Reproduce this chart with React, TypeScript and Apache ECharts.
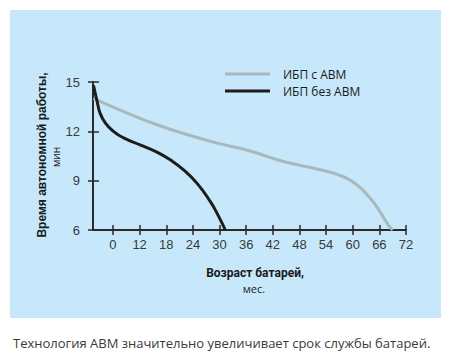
import React, { useEffect, useRef } from "react";
import * as echarts from "echarts";

// Axis ticks (months) and their printed labels
const xTickValues = [6, 12, 18, 24, 30, 36, 42, 48, 54, 60, 66, 72];
const xTickLabels = ["0", "12", "18", "24", "30", "36", "42", "48", "54", "60", "66", "72"];
const yTickLabels = ["6", "9", "12", "15"];

const seriesNames = ["ИБП с ABM", "ИБП без ABM"];

// ИБП с ABM
const withAbmAge = [1.6, 8.4, 15.9, 23.4, 30.0, 36.9, 43.6, 48.2, 52.7, 57.1, 60.9, 63.9, 66.1, 68.0, 69.0];
const withAbmTime = [14.0, 13.2, 12.4, 11.75, 11.25, 10.8, 10.23, 9.93, 9.66, 9.32, 8.75, 7.94, 7.13, 6.31, 6.0];

// ИБП без ABM
const noAbmAge = [1.6, 2.4, 3.1, 4.3, 6.1, 8.4, 12.1, 15.9, 18.9, 21.9, 24.9, 27.9, 29.8, 31.3];
const noAbmTime = [14.8, 13.85, 13.1, 12.5, 12.0, 11.6, 11.18, 10.74, 10.27, 9.66, 8.85, 7.74, 6.83, 6.0];

const zip = (a: number[], b: number[]) => a.map((v, i) => [v, b[i]]);

const AXIS_COLOR = "#2a2a2a";
const GRAY = "#a9b8bc";
const BLACK = "#1c1c1c";

export default function App() {
  const ref = useRef<HTMLDivElement>(null);
  useEffect(() => {
    if (!ref.current) return;
    const chart = echarts.init(ref.current, undefined, { renderer: "svg" });
    const labelStyle = {
      color: "#3a3a3a",
      fontFamily: '"Liberation Sans", Arial, sans-serif',
      fontSize: 13,
    };
    const xBase = {
      type: "value" as const,
      min: 1.5,
      max: 72,
      gridIndex: 0,
      position: "bottom" as const,
      splitLine: { show: false },
    };
    const yBase = {
      type: "value" as const,
      min: 6,
      max: 15,
      interval: 3,
      gridIndex: 0,
      position: "left" as const,
      splitLine: { show: false },
    };
    chart.setOption({
      animation: false,
      grid: { left: 93, top: 82, right: 53, bottom: 131, containLabel: false, outerBoundsMode: "none" },
      legend: {
        orient: "vertical",
        left: 220,
        top: 62,
        itemWidth: 45,
        itemHeight: 3,
        itemGap: 3,
        icon: "rect",
        textStyle: {
          color: "#1a1a1a",
          fontFamily: '"Open Sans", sans-serif',
          fontSize: 12,
          lineHeight: 14,
          padding: [0, 0, 0, 8],
        },
        data: seriesNames,
      },
      xAxis: [
        {
          ...xBase,
          axisLine: { show: true, lineStyle: { color: AXIS_COLOR, width: 2 } },
          axisTick: { show: true, customValues: xTickValues, length: 5, inside: false, lineStyle: { color: AXIS_COLOR, width: 1.5 } },
          axisLabel: {
            ...labelStyle,
            customValues: xTickValues,
            margin: 8,
            formatter: (v: number) => {
              const i = xTickValues.indexOf(v);
              return i >= 0 ? xTickLabels[i] : "";
            },
          },
        },
        {
          ...xBase,
          axisLine: { show: false },
          axisTick: { show: true, customValues: xTickValues, length: 5, inside: true, lineStyle: { color: AXIS_COLOR, width: 1.5 } },
          axisLabel: { show: false },
        },
      ],
      yAxis: [
        {
          ...yBase,
          axisLine: { show: true, lineStyle: { color: AXIS_COLOR, width: 2 } },
          axisTick: { show: true, length: 5, inside: false, lineStyle: { color: AXIS_COLOR, width: 1.5 } },
          axisLabel: {
            ...labelStyle,
            margin: 13,
            formatter: (v: number) => (yTickLabels.indexOf(String(v)) >= 0 ? String(v) : ""),
          },
        },
        {
          ...yBase,
          axisLine: { show: false },
          axisTick: { show: true, length: 6, inside: true, lineStyle: { color: AXIS_COLOR, width: 1.5 } },
          axisLabel: { show: false },
        },
      ],
      graphic: [
        {
          type: "rect",
          z: -100,
          silent: true,
          shape: { x: 10, y: 10, width: 431, height: 308 },
          style: { fill: "#c6e8fa" },
        },
        {
          type: "text",
          x: 42,
          y: 155,
          rotation: Math.PI / 2,
          style: {
            text: "Время автономной работы,",
            font: 'bold 12px "Liberation Sans", Arial, sans-serif',
            fill: "#1a1a1a",
            align: "center",
            verticalAlign: "middle",
          },
        },
        {
          type: "text",
          x: 56,
          y: 157,
          rotation: Math.PI / 2,
          style: {
            text: "мин",
            font: '10px "Open Sans", sans-serif',
            fill: "#1a1a1a",
            align: "center",
            verticalAlign: "middle",
          },
        },
        {
          type: "text",
          x: 255,
          y: 273,
          style: {
            text: "Возраст батарей,",
            font: 'bold 12px Roboto, sans-serif',
            fill: "#1a1a1a",
            align: "center",
            verticalAlign: "middle",
          },
        },
        {
          type: "text",
          x: 254,
          y: 288,
          style: {
            text: "мес.",
            font: '11px "Open Sans", sans-serif',
            fill: "#1a1a1a",
            align: "center",
            verticalAlign: "middle",
          },
        },
        {
          type: "text",
          x: 13,
          y: 343,
          style: {
            text: "Технология ABM значительно увеличивает срок службы батарей.",
            font: '13px "Open Sans", sans-serif',
            fill: "#3a3a3a",
            align: "left",
            verticalAlign: "middle",
          },
        },
      ],
      series: [
        {
          name: seriesNames[0],
          type: "line",
          xAxisIndex: 0,
          yAxisIndex: 0,
          data: zip(withAbmAge, withAbmTime),
          smooth: 0.5,
          showSymbol: false,
          symbol: "none",
          lineStyle: { color: GRAY, width: 3 },
          itemStyle: { color: GRAY },
        },
        {
          name: seriesNames[1],
          type: "line",
          xAxisIndex: 0,
          yAxisIndex: 0,
          data: zip(noAbmAge, noAbmTime),
          smooth: 0.5,
          showSymbol: false,
          symbol: "none",
          lineStyle: { color: BLACK, width: 3 },
          itemStyle: { color: BLACK },
        },
      ],
    });
    return () => chart.dispose();
  }, []);
  return (
    <div
      ref={ref}
      style={{ position: "absolute", left: 0, top: 0, width: 459, height: 361 }}
    />
  );
}
